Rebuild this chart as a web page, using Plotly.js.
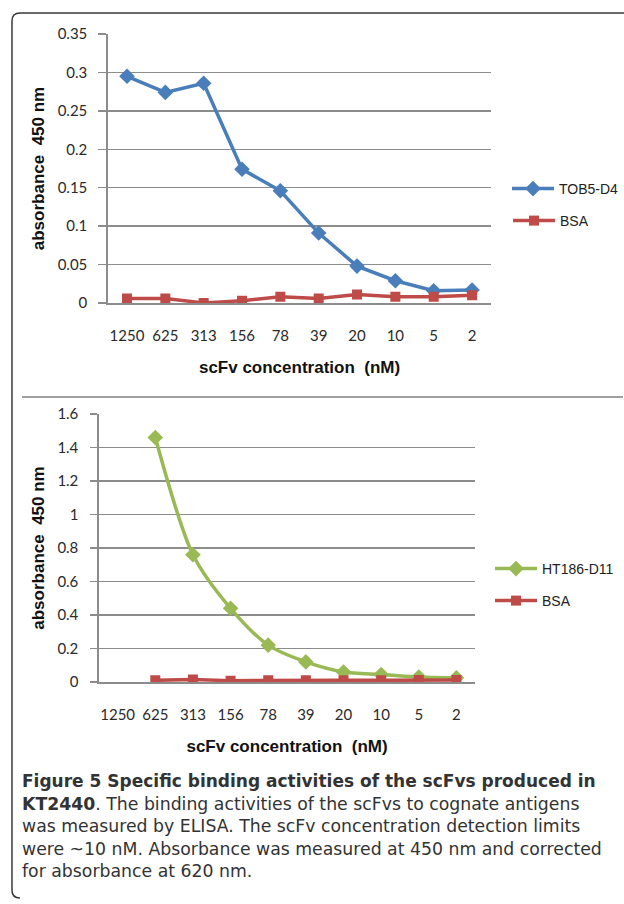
<!DOCTYPE html>
<html><head><meta charset="utf-8">
<script src="https://cdn.plot.ly/plotly-3.0.1.min.js"></script>
<style>html,body{margin:0;padding:0;background:#fff}#chart{width:624px;height:904px}</style>
</head><body><div id="chart"></div>
<script>
const categories = ['1250','625','313','156','78','39','20','10','5','2'];
const tob5D4 = [0.295, 0.274, 0.286, 0.174, 0.146, 0.091, 0.048, 0.029, 0.016, 0.017];
const bsaTop = [0.006, 0.006, 0.000, 0.003, 0.008, 0.006, 0.011, 0.008, 0.008, 0.010];
const ht186D11 = [null, 1.46, 0.76, 0.44, 0.22, 0.12, 0.06, 0.045, 0.03, 0.025];
const bsaBottom = [null, 0.010, 0.015, 0.008, 0.010, 0.010, 0.010, 0.010, 0.012, 0.012];
const xTitle = 'scFv concentration  (nM)';
const yTitle = 'absorbance  450 nm';
const captionLines = [
  '<b>Figure 5 Specific binding activities of the scFvs produced in</b>',
  '<b>KT2440</b>. The binding activities of the scFvs to cognate antigens',
  'was measured by ELISA. The scFv concentration detection limits',
  'were ~10 nM. Absorbance was measured at 450 nm and corrected',
  'for absorbance at 620 nm.'
];

const W = 624, H = 904;
const px = v => v / W;
const py = v => 1 - v / H;

const BLUE = '#4a7ebb', RED = '#be4b48', GREEN = '#98b954';
const GRID = '#8c8c8c';
const tickFont = {family: 'Lato, "Liberation Sans", sans-serif', size: 15, color: '#2a2a2a'};
const titleFont = {family: '"Liberation Sans", Arial, sans-serif', size: 17, color: '#111', weight: 'bold'};

function line(x, y, name, color, symbol, xa, ya, leg, shape) {
  return {x, y, name, type: 'scatter', mode: 'lines+markers', xaxis: xa, yaxis: ya, legend: leg,
    connectgaps: false,
    line: {color, width: 3.5, shape: shape || 'linear', smoothing: 0.8},
    marker: {color, symbol, size: symbol === 'square' ? 10 : 12}};
}

const data = [
  line(categories, tob5D4, 'TOB5-D4', BLUE, 'diamond', 'x', 'y', 'legend'),
  line(categories, bsaTop, 'BSA', RED, 'square', 'x', 'y', 'legend2'),
  line(categories, ht186D11, 'HT186-D11', GREEN, 'diamond', 'x2', 'y2', 'legend3', 'spline'),
  line(categories, bsaBottom, 'BSA', RED, 'square', 'x2', 'y2', 'legend4')
];

function xaxis(dom, anchor) {
  return {domain: dom, anchor, type: 'category', categoryorder: 'array', categoryarray: categories,
    range: [-0.5, 9.5], showgrid: false, zeroline: false, showline: true, linecolor: GRID, linewidth: 1.5,
    ticks: '', ticklabelstandoff: 18, tickfont: tickFont, fixedrange: true,
    title: {text: xTitle, font: titleFont, standoff: 18}};
}
function yaxis(dom, anchor, range, dtick, tl) {
  return {domain: dom, anchor, range, dtick, showgrid: true, gridcolor: GRID, gridwidth: 1.5,
    zeroline: false, showline: true, linecolor: GRID, linewidth: 1.5,
    ticks: 'outside', ticklen: tl, tickcolor: GRID, tickwidth: 1.5, ticklabelstandoff: 16 - tl,
    tickfont: tickFont, fixedrange: true,
    title: {text: yTitle, font: titleFont, standoff: 8}};
}
function legend(x, y) {
  return {x: px(x), y: py(y), xanchor: 'left', yanchor: 'middle', bgcolor: 'rgba(0,0,0,0)',
    borderwidth: 0, itemwidth: 42,
    font: {family: '"Liberation Sans", Arial, sans-serif', size: 14, color: '#222'}};
}

const r = 8, L = 12, T = 13, R = 640, B = 898;
const borderPath = `M ${px(L)} ${py(T + r)} Q ${px(L)} ${py(T)} ${px(L + r)} ${py(T)} L ${px(R)} ${py(T)} ` +
  `M ${px(L)} ${py(T + r)} L ${px(L)} ${py(B - r)} Q ${px(L)} ${py(B)} ${px(L + r)} ${py(B)}`;

const captionY = [781, 804, 826, 849, 871];
const captionAnn = captionLines.map((t, i) => ({
  xref: 'paper', yref: 'paper', x: px(21), y: py(captionY[i]), xanchor: 'left', yanchor: 'middle',
  align: 'left', showarrow: false, text: t, borderpad: 0,
  font: {family: '"DejaVu Sans", sans-serif', size: i === 0 ? 17 : 17.3, color: '#333'}
}));

const layout = {
  width: W, height: H, margin: {l: 0, r: 0, t: 0, b: 0},
  paper_bgcolor: '#fff', plot_bgcolor: '#fff', showlegend: true,
  xaxis: xaxis([px(108), px(492)], 'y'),
  yaxis: yaxis([py(303), py(34)], 'x', [0, 0.35], 0.05, 8),
  xaxis2: xaxis([px(99), px(476)], 'y2'),
  yaxis2: yaxis([py(682), py(414)], 'x2', [0, 1.6], 0.2, 7),
  legend: legend(508, 189),
  legend2: legend(508, 221),
  legend3: legend(490, 569),
  legend4: legend(490, 601),
  shapes: [
    {type: 'path', xref: 'paper', yref: 'paper', path: borderPath, line: {color: '#3a3a3a', width: 1.5}},
    {type: 'line', xref: 'paper', yref: 'paper', x0: px(22), x1: px(624), y0: py(397), y1: py(397),
      line: {color: '#a0a0a0', width: 2}}
  ],
  annotations: captionAnn
};

Plotly.newPlot('chart', data, layout, {displayModeBar: false, staticPlot: true});
</script></body></html>
